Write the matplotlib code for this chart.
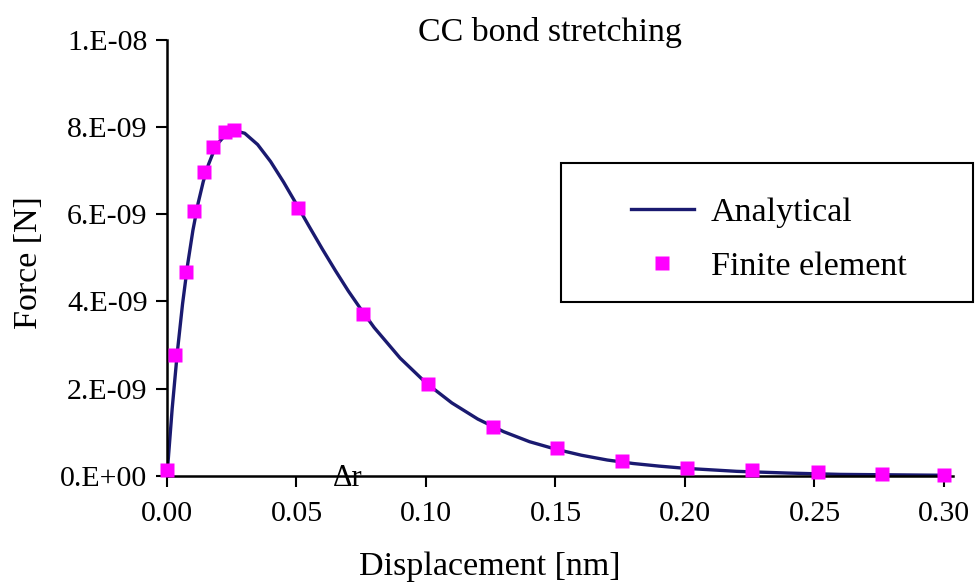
import matplotlib
matplotlib.use("Agg")
from matplotlib import pyplot as plt
from matplotlib.patches import Rectangle

# analytical curve (force in 1e-9 N)
x_analytical = [0.0, 0.002, 0.004, 0.006, 0.008, 0.010, 0.012, 0.014, 0.016, 0.018,
                0.020, 0.023, 0.026, 0.030, 0.035, 0.040, 0.045, 0.050, 0.055, 0.060,
                0.065, 0.070, 0.075, 0.080, 0.090, 0.100, 0.110, 0.120, 0.130, 0.140,
                0.150, 0.160, 0.170, 0.180, 0.190, 0.200, 0.220, 0.240, 0.260, 0.280, 0.300]
f_analytical = [0.0, 1.54, 2.84, 3.94, 4.86, 5.63, 6.25, 6.75, 7.14, 7.44,
                7.65, 7.85, 7.92, 7.86, 7.60, 7.21, 6.74, 6.23, 5.71, 5.20,
                4.71, 4.24, 3.81, 3.40, 2.70, 2.13, 1.67, 1.30, 1.01, 0.78,
                0.61, 0.47, 0.36, 0.28, 0.22, 0.17, 0.10, 0.06, 0.03, 0.02, 0.01]

# finite element results
x_fe = [0.0, 0.003, 0.0073, 0.0104, 0.0143, 0.0178, 0.0224, 0.026, 0.0506, 0.0757,
        0.1008, 0.1259, 0.1506, 0.1757, 0.2008, 0.2259, 0.2514, 0.276, 0.300]
f_fe = [0.12, 2.77, 4.67, 6.07, 6.96, 7.54, 7.88, 7.93, 6.14, 3.71,
        2.10, 1.12, 0.64, 0.34, 0.18, 0.13, 0.08, 0.04, 0.02]

x_ticks = [0.0, 0.05, 0.10, 0.15, 0.20, 0.25, 0.30]
x_tick_labels = ["0.00", "0.05", "0.10", "0.15", "0.20", "0.25", "0.30"]
y_ticks = [0.0, 2e-9, 4e-9, 6e-9, 8e-9, 1e-8]
y_tick_labels = ["0.E+00", "2.E-09", "4.E-09", "6.E-09", "8.E-09", "1.E-08"]

plt.rcParams['font.family'] = ['Liberation Serif', 'DejaVu Serif']

W, H = 976, 584
fig = plt.figure(figsize=(W / 100, H / 100), dpi=100)
ax = fig.add_axes([167 / W, 1 - 475.7 / H, (953 - 167) / W, (475.7 - 40) / H])

ax.plot(x_analytical, [v * 1e-9 for v in f_analytical], color='#1a1a70', lw=2.4,
        label='Analytical')
ax.plot(x_fe, [v * 1e-9 for v in f_fe], 's', color='#ff00ff', ms=9.5, mec='none',
        label='Finite element', clip_on=False, zorder=3)

ax.set_xlim(0, 0.3035)
ax.set_ylim(0, 1e-8)
ax.set_xticks(x_ticks)
ax.set_xticklabels(x_tick_labels)
ax.set_yticks(y_ticks)
ax.set_yticklabels(y_tick_labels)
ax.tick_params(axis='both', labelsize=21.5, width=1.5, length=8, direction='out')
ax.tick_params(axis='x', pad=10)
ax.tick_params(axis='y', pad=6)
for s in ['top', 'right']:
    ax.spines[s].set_visible(False)
for s in ['left', 'bottom']:
    ax.spines[s].set_linewidth(1.8)

ax.text(0.0699, -0.6e-10, '\u0394r', fontsize=22, ha='center', va='center')

fig.text(550 / W, 1 - 41 / H, 'CC bond stretching', fontsize=24.5, ha='center',
         va='baseline')
fig.text(490 / W, 1 - 575 / H, 'Displacement [nm]', fontsize=24.5, ha='center',
         va='baseline')
fig.text(29 / W, 1 - 263 / H, 'Force [N]', fontsize=24.5, ha='center', va='center',
         rotation=90)

# legend box
fig.patches.append(Rectangle((561 / W, 1 - 302 / H), (973 - 561) / W, (302 - 163) / H,
                             transform=fig.transFigure, fill=False, ec='black', lw=1.5))
fig.legend(loc='upper left', bbox_to_anchor=(631 / W, 1 - 197 / H), frameon=False,
           fontsize=24.5, handlelength=1.85, handletextpad=0.5, labelspacing=0.68,
           numpoints=1, borderpad=0, borderaxespad=0)

fig.savefig('out.png', dpi=100)
